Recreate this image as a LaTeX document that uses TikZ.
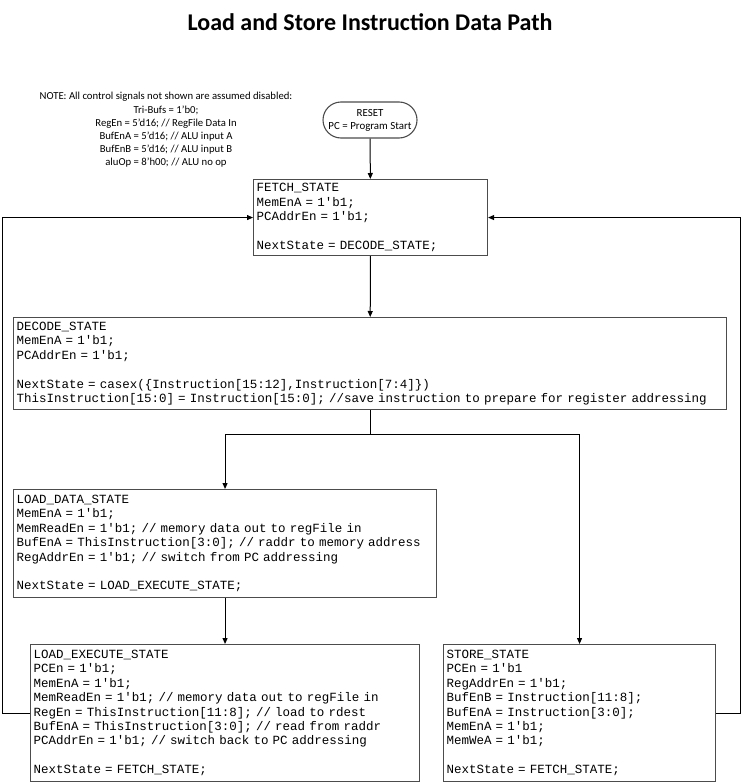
\documentclass[tikz,border=0pt]{standalone}
\usepackage{fontspec}
\setmainfont{Carlito}
\setmonofont{Liberation Mono}
\usetikzlibrary{arrows.meta,shapes.misc}
\tikzset{
    %Define standard arrow tip
    >={Triangle[length=6pt,width=5pt]},
    statebox/.style={draw=black!70, line width=1.1pt, rectangle, anchor=north west, inner xsep=3pt, inner ysep=0pt, align=left, font=\ttfamily\fontsize{12.5}{14.4}\selectfont},
    flow/.style={line width=1pt}
}
\begin{document}
\begin{tikzpicture}[x=1pt,y=-1pt]
    \useasboundingbox (0,0) rectangle (741,784);
    \node[font=\bfseries\fontsize{24}{28}\selectfont] (title) at (370,22) {Load and Store Instruction Data Path};
    \node[align=center, font=\fontsize{10.7}{13.2}\selectfont] (note) at (166,130) {NOTE: All control signals not shown are assumed disabled:\\
        Tri-Bufs = 1'b0;\\
        RegEn = 5'd16; // RegFile Data In\\
        BufEnA = 5'd16; // ALU input A\\
        BufEnB = 5'd16; // ALU input B\\
        aluOp = 8'h00; // ALU no op};
    \node[draw=black!70, line width=1.1pt, rounded rectangle, minimum width=96pt, minimum height=36pt, inner sep=1pt, align=center, font=\fontsize{10.9}{13}\selectfont] (reset) at (370,120) {RESET\\PC = Program Start};
    % states
    \node[statebox, text width=228pt, minimum height=76pt] (fetch) at (253,179) {FETCH\_STATE\\
        MemEnA = 1'b1;\\
        PCAddrEn = 1'b1;\\
        ~\\
        NextState = DECODE\_STATE;};
    \node[statebox, text width=707pt, minimum height=92pt] (dec) at (13,317) {DECODE\_STATE\\
        MemEnA = 1'b1;\\
        PCAddrEn = 1'b1;\\
        ~\\
        NextState = casex(\{Instruction[15:12],Instruction[7:4]\})\\
        ThisInstruction[15:0] = Instruction[15:0]; //save instruction to prepare for register addressing};
    \node[statebox, text width=417pt, minimum height=108pt] (ldat) at (13,489) {LOAD\_DATA\_STATE\\
        MemEnA = 1'b1;\\
        MemReadEn = 1'b1; // memory data out to regFile in\\
        BufEnA = ThisInstruction[3:0]; // raddr to memory address\\
        RegAddrEn = 1'b1; // switch from PC addressing\\
        ~\\
        NextState = LOAD\_EXECUTE\_STATE;};
    \node[statebox, text width=383pt, minimum height=137pt] (lexe) at (30,644) {LOAD\_EXECUTE\_STATE\\
        PCEn = 1'b1;\\
        MemEnA = 1'b1;\\
        MemReadEn = 1'b1; // memory data out to regFile in\\
        RegEn = ThisInstruction[11:8]; // load to rdest\\
        BufEnA = ThisInstruction[3:0]; // read from raddr\\
        PCAddrEn = 1'b1; // switch back to PC addressing\\
        ~\\
        NextState = FETCH\_STATE;};
    \node[statebox, text width=266pt, minimum height=137pt] (st) at (443,644) {STORE\_STATE\\
        PCEn = 1'b1\\
        RegAddrEn = 1'b1;\\
        BufEnB = Instruction[11:8];\\
        BufEnA = Instruction[3:0];\\
        MemEnA = 1'b1;\\
        MemWeA = 1'b1;\\
        ~\\
        NextState = FETCH\_STATE;};
    % connectors
    \draw[flow,->] (reset) -- (fetch);
    \draw[flow,->] (fetch) -- (dec);
    \draw[flow] (dec.south) -- ++(0,24) coordinate (split);
    \draw[flow,->] (split) -| (ldat.north);
    \draw[flow,->] (split) -| (st.north);
    \draw[flow,->] (ldat) -- (lexe);
    \draw[flow,->] (lexe.west) -- ++(-28,0) |- (fetch.west);
    \draw[flow,->] (st.east) -- ++(24,0) |- (fetch.east);
\end{tikzpicture}
\end{document}
